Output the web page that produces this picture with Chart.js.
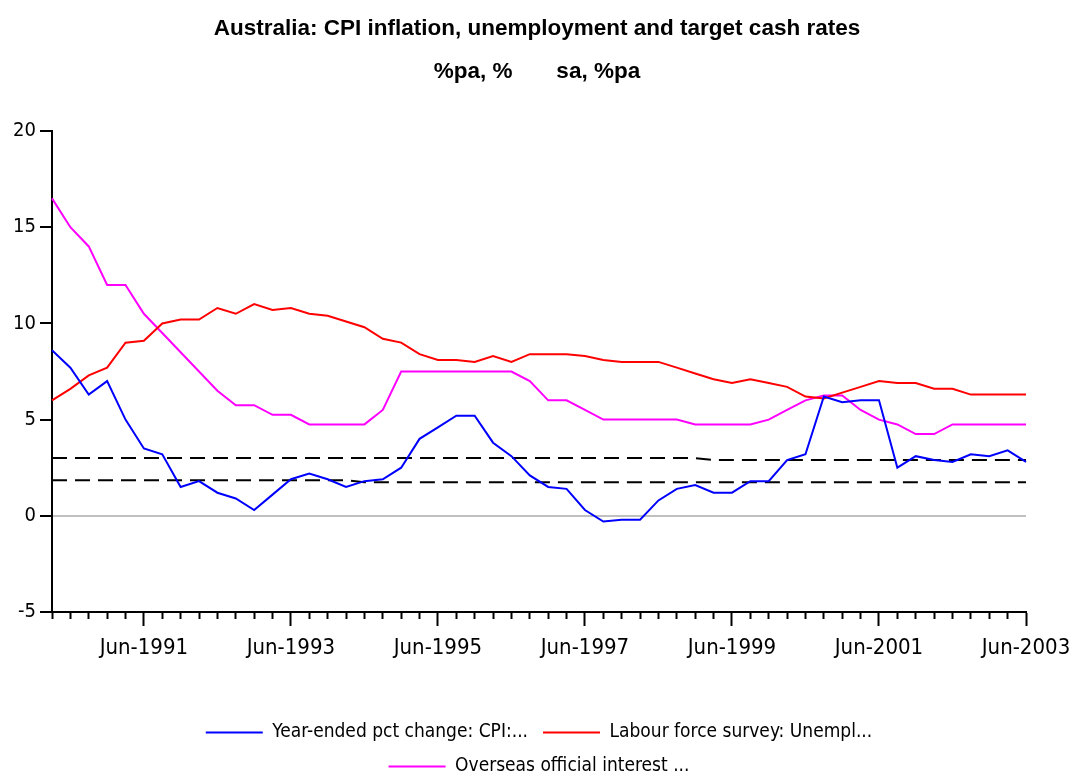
<!DOCTYPE html>
<html>
<head>
<meta charset="utf-8">
<title>Australia: CPI inflation, unemployment and target cash rates</title>
<script src="https://cdn.jsdelivr.net/npm/chart.js@4.4.1/dist/chart.umd.min.js"></script>
<style>
  html, body { margin: 0; padding: 0; background: #fff; }
  canvas { display: block; }
</style>
</head>
<body>
<canvas id="chart" width="1074" height="774"></canvas>
<script>
// quarterly observations, Mar-1990 .. Jun-2003
const quarters = [
  'Mar-1990', 'Jun-1990', 'Sep-1990', 'Dec-1990',
  'Mar-1991', 'Jun-1991', 'Sep-1991', 'Dec-1991',
  'Mar-1992', 'Jun-1992', 'Sep-1992', 'Dec-1992',
  'Mar-1993', 'Jun-1993', 'Sep-1993', 'Dec-1993',
  'Mar-1994', 'Jun-1994', 'Sep-1994', 'Dec-1994',
  'Mar-1995', 'Jun-1995', 'Sep-1995', 'Dec-1995',
  'Mar-1996', 'Jun-1996', 'Sep-1996', 'Dec-1996',
  'Mar-1997', 'Jun-1997', 'Sep-1997', 'Dec-1997',
  'Mar-1998', 'Jun-1998', 'Sep-1998', 'Dec-1998',
  'Mar-1999', 'Jun-1999', 'Sep-1999', 'Dec-1999',
  'Mar-2000', 'Jun-2000', 'Sep-2000', 'Dec-2000',
  'Mar-2001', 'Jun-2001', 'Sep-2001', 'Dec-2001',
  'Mar-2002', 'Jun-2002', 'Sep-2002', 'Dec-2002',
  'Mar-2003', 'Jun-2003'
];

const tickLabels = ['Jun-1991', 'Jun-1993', 'Jun-1995', 'Jun-1997', 'Jun-1999', 'Jun-2001', 'Jun-2003'];

const cpiInflation = [
  8.6, 7.7, 6.3, 7.0, 5.0, 3.5, 3.2, 1.5, 1.8, 1.2,
  0.9, 0.3, 1.1, 1.9, 2.2, 1.9, 1.5, 1.8, 1.9, 2.5,
  4.0, 4.6, 5.2, 5.2, 3.8, 3.1, 2.1, 1.5, 1.4, 0.3,
  -0.3, -0.2, -0.2, 0.8, 1.4, 1.6, 1.2, 1.2, 1.8, 1.8,
  2.9, 3.2, 6.2, 5.9, 6.0, 6.0, 2.5, 3.1, 2.9, 2.8,
  3.2, 3.1, 3.4, 2.8
];

const unemployment = [
  6.0, 6.6, 7.3, 7.7, 9.0, 9.1, 10.0, 10.2, 10.2, 10.8,
  10.5, 11.0, 10.7, 10.8, 10.5, 10.4, 10.1, 9.8, 9.2, 9.0,
  8.4, 8.1, 8.1, 8.0, 8.3, 8.0, 8.4, 8.4, 8.4, 8.3,
  8.1, 8.0, 8.0, 8.0, 7.7, 7.4, 7.1, 6.9, 7.1, 6.9,
  6.7, 6.2, 6.1, 6.4, 6.7, 7.0, 6.9, 6.9, 6.6, 6.6,
  6.3, 6.3, 6.3, 6.3
];

const cashRate = [
  16.5, 15.0, 14.0, 12.0, 12.0, 10.5, 9.5, 8.5, 7.5, 6.5,
  5.75, 5.75, 5.25, 5.25, 4.75, 4.75, 4.75, 4.75, 5.5, 7.5,
  7.5, 7.5, 7.5, 7.5, 7.5, 7.5, 7.0, 6.0, 6.0, 5.5,
  5.0, 5.0, 5.0, 5.0, 5.0, 4.75, 4.75, 4.75, 4.75, 5.0,
  5.5, 6.0, 6.25, 6.25, 5.5, 5.0, 4.75, 4.25, 4.25, 4.75,
  4.75, 4.75, 4.75, 4.75
];

// the two dashed reference lines
const upperBand = [
  3.0, 3.0, 3.0, 3.0, 3.0, 3.0, 3.0, 3.0, 3.0, 3.0,
  3.0, 3.0, 3.0, 3.0, 3.0, 3.0, 3.0, 3.0, 3.0, 3.0,
  3.0, 3.0, 3.0, 3.0, 3.0, 3.0, 3.0, 3.0, 3.0, 3.0,
  3.0, 3.0, 3.0, 3.0, 3.0, 3.0, 2.9, 2.9, 2.9, 2.9,
  2.9, 2.9, 2.9, 2.9, 2.9, 2.9, 2.9, 2.9, 2.9, 2.9,
  2.9, 2.9, 2.9, 2.9
];

const lowerBand = [
  1.85, 1.85, 1.85, 1.85, 1.85, 1.85, 1.85, 1.85, 1.85, 1.85,
  1.85, 1.85, 1.85, 1.85, 1.85, 1.85, 1.85, 1.75, 1.75, 1.75,
  1.75, 1.75, 1.75, 1.75, 1.75, 1.75, 1.75, 1.75, 1.75, 1.75,
  1.75, 1.75, 1.75, 1.75, 1.75, 1.75, 1.75, 1.75, 1.75, 1.75,
  1.75, 1.75, 1.75, 1.75, 1.75, 1.75, 1.75, 1.75, 1.75, 1.75,
  1.75, 1.75, 1.75, 1.75
];

const FONT = "'DejaVu Sans Condensed', 'Liberation Sans Narrow', sans-serif";
const TITLE_FONT = "'Liberation Sans', Arial, sans-serif";
Chart.defaults.font.family = FONT;
Chart.defaults.color = '#000';

function series(label, data, color) {
  return {
    label: label,
    data: data,
    borderColor: color,
    backgroundColor: color,
    borderWidth: 2,
    pointRadius: 0,
    tension: 0
  };
}

function band(data) {
  const ds = series('band', data, '#000000');
  ds.borderDash = [15, 8];
  return ds;
}

const isMajor = i => tickLabels.includes(quarters[i]);

new Chart(document.getElementById('chart').getContext('2d'), {
  type: 'line',
  data: {
    labels: quarters,
    datasets: [
      series('Year-ended pct change: CPI:...', cpiInflation, '#0000FF'),
      series('Labour force survey: Unempl...', unemployment, '#FF0000'),
      series('Overseas official interest ...', cashRate, '#FF00FF'),
      band(upperBand),
      band(lowerBand)
    ]
  },
  options: {
    responsive: false,
    animation: false,
    layout: { padding: { left: 0, right: 0, top: 0, bottom: -12 } },
    plugins: {
      title: {
        display: true,
        text: ['Australia: CPI inflation, unemployment and target cash rates', '%pa, %       sa, %pa'],
        color: '#000',
        font: { family: TITLE_FONT, size: 22.5, weight: 'bold', lineHeight: '43px' },
        padding: { top: 7, bottom: 38 }
      },
      legend: {
        position: 'bottom',
        fullSize: false,
        labels: {
          boxWidth: 57,
          boxHeight: 0,
          padding: 15,
          color: '#000',
          font: { size: 19 },
          filter: item => item.datasetIndex < 3
        }
      },
      tooltip: { enabled: false }
    },
    scales: {
      x: {
        afterFit: s => { s.height = 96; s.paddingRight = 48; },
        border: { color: '#000', width: 2 },
        grid: {
          drawOnChartArea: false,
          tickLength: 14,
          tickWidth: 2,
          tickColor: '#000',
          tickBorderDash: c => isMajor(c.index) ? [] : [6, 40]
        },
        ticks: {
          autoSkip: false,
          maxRotation: 0,
          padding: 9,
          font: { size: 22 },
          callback: function(v) {
            const lbl = this.getLabelForValue(v);
            return tickLabels.includes(lbl) ? lbl : '';
          }
        }
      },
      y: {
        min: -5,
        max: 20,
        afterFit: s => { s.width = 52; },
        border: { color: '#000', width: 2 },
        grid: {
          color: c => (c.tick && c.tick.value === 0) ? '#C0C0C0' : 'rgba(0,0,0,0)',
          lineWidth: 2,
          tickLength: 12,
          tickWidth: 2,
          tickColor: '#000'
        },
        ticks: { stepSize: 5, padding: 4, font: { size: 20 } }
      }
    }
  }
});
</script>
</body>
</html>
